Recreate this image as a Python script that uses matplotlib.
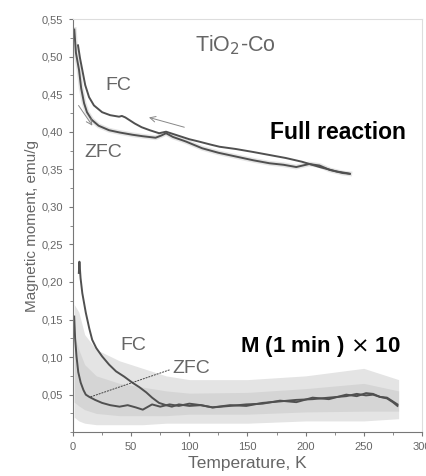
import numpy as np
import matplotlib.pyplot as plt
from matplotlib.ticker import MultipleLocator, FuncFormatter

plt.rcParams['font.family'] = ['Liberation Sans', 'DejaVu Sans']

# upper pair (full reaction)
fc_t = [4.3, 6, 8, 10.5, 13.8, 18, 25, 32, 39.6, 42, 45, 48, 53, 59, 66, 74, 80, 90, 100, 108, 118, 126,
        140, 155, 169, 183, 197, 212, 227, 235, 238]
fc_m = [0.515, 0.498, 0.482, 0.462, 0.446, 0.435, 0.426, 0.422, 0.420, 0.421, 0.419, 0.416, 0.411, 0.406,
        0.402, 0.398, 0.400, 0.395, 0.390, 0.387, 0.383, 0.380, 0.377, 0.373, 0.369, 0.365, 0.360, 0.353,
        0.347, 0.345, 0.344]
zfc_t = [1.1, 2.5, 5.2, 7, 9.5, 12, 16, 22, 31, 40, 51, 60, 71, 76, 80, 86, 97, 111, 125, 140, 155, 169,
         181, 192, 203, 212, 221, 232, 238]
zfc_m = [0.536, 0.505, 0.482, 0.458, 0.438, 0.426, 0.416, 0.408, 0.402, 0.399, 0.396, 0.394, 0.392, 0.395,
         0.398, 0.393, 0.387, 0.378, 0.372, 0.367, 0.362, 0.358, 0.356, 0.353, 0.357, 0.355, 0.349, 0.345,
         0.344]

# lower pair, M(1 min) x 10
fc2_t = [5, 5.5, 6.5, 8, 11, 14, 16.5, 20, 25, 31, 37, 44, 51, 57, 63, 68, 74, 80, 85, 91, 100, 110, 120,
         135, 149, 163, 178, 192, 206, 220, 235, 244, 252, 258, 264, 270, 275, 279]
fc2_m = [0.212, 0.227, 0.205, 0.185, 0.159, 0.138, 0.123, 0.112, 0.101, 0.090, 0.081, 0.074, 0.066, 0.060,
         0.053, 0.046, 0.039, 0.036, 0.034, 0.037, 0.035, 0.036, 0.033, 0.035, 0.037, 0.038, 0.042, 0.040,
         0.046, 0.044, 0.050, 0.048, 0.052, 0.051, 0.047, 0.046, 0.041, 0.037]
zfc2_t = [1, 1.8, 3, 4.5, 6.6, 9, 11, 14, 19, 25, 32, 40, 47, 54, 60, 68, 75, 83, 91, 100, 110, 120, 135,
          149, 163, 178, 192, 206, 220, 235, 244, 252, 258, 264, 270, 275, 279]
zfc2_m = [0.154, 0.125, 0.101, 0.080, 0.066, 0.056, 0.050, 0.047, 0.043, 0.039, 0.036, 0.034, 0.036, 0.033,
          0.030, 0.037, 0.034, 0.037, 0.035, 0.038, 0.036, 0.033, 0.036, 0.035, 0.039, 0.041, 0.043, 0.044,
          0.046, 0.048, 0.051, 0.049, 0.050, 0.047, 0.045, 0.040, 0.035]

# noise cloud envelope around the lower curves
band_t = [1, 5, 10, 20, 40, 60, 80, 100, 150, 200, 250, 280]
band_lo = [0.02, 0.015, 0.012, 0.010, 0.010, 0.010, 0.012, 0.012, 0.012, 0.015, 0.015, 0.018]
band_hi = [0.17, 0.16, 0.13, 0.11, 0.095, 0.085, 0.075, 0.070, 0.070, 0.075, 0.085, 0.070]
core_lo = [0.04, 0.035, 0.030, 0.025, 0.022, 0.022, 0.022, 0.024, 0.024, 0.027, 0.028, 0.028]
core_hi = [0.13, 0.11, 0.09, 0.075, 0.065, 0.060, 0.055, 0.052, 0.053, 0.058, 0.065, 0.055]

yticks = [0.05, 0.10, 0.15, 0.20, 0.25, 0.30, 0.35, 0.40, 0.45, 0.50, 0.55]
xticks = [0, 50, 100, 150, 200, 250, 300]

line_col = '#505050'
txt_col = '#666666'

fig = plt.figure(figsize=(4.27, 4.76), dpi=100)
ax = fig.add_axes([0.171, 0.092, 0.817, 0.868])

ax.fill_between(band_t, band_lo, band_hi, color='#e4e4e4', lw=0)
ax.fill_between(band_t, core_lo, core_hi, color='#cfcfcf', alpha=0.7, lw=0)

ax.plot(zfc_t, zfc_m, color='#aaaaaa', lw=3.5, alpha=0.3)
ax.plot(fc_t, fc_m, color=line_col, lw=1.4)
ax.plot(zfc_t, zfc_m, color=line_col, lw=1.4)
ax.plot(fc2_t, fc2_m, color=line_col, lw=1.4)
ax.plot(zfc2_t, zfc2_m, color=line_col, lw=1.4)

# arrows in the upper part
ax.annotate('', xy=(18, 0.405), xytext=(3.4, 0.438),
            arrowprops=dict(arrowstyle='->', color='#888888', lw=0.7))
ax.annotate('', xy=(63, 0.420), xytext=(98, 0.405),
            arrowprops=dict(arrowstyle='->', color='#888888', lw=0.7))
# pointer from lower ZFC label
ax.plot([83, 15], [0.083, 0.047], color='#444444', lw=0.7, ls=(0, (2, 1)))

ax.text(140, 0.515, 'TiO$_2$-Co', color=txt_col, fontsize=15.5, ha='center', va='center')
ax.text(38.8, 0.462, 'FC', color=txt_col, fontsize=14, ha='center', va='center')
ax.text(25.9, 0.373, 'ZFC', color=txt_col, fontsize=14, ha='center', va='center')
ax.text(227.6, 0.399, 'Full reaction', color='black', fontsize=16.5, fontweight='bold',
        ha='center', va='center')
ax.text(51.7, 0.115, 'FC', color=txt_col, fontsize=14, ha='center', va='center')
ax.text(101.7, 0.085, 'ZFC', color=txt_col, fontsize=14, ha='center', va='center')
ax.text(213, 0.114, 'M (1 min ) $\\times$ 10', color='black', fontsize=16, fontweight='bold',
        ha='center', va='center')

ax.set_xlim(0, 300)
ax.set_ylim(0, 0.55)
ax.set_xticks(xticks)
ax.set_yticks(yticks)
ax.xaxis.set_minor_locator(MultipleLocator(25))
ax.yaxis.set_minor_locator(MultipleLocator(0.025))
ax.yaxis.set_major_formatter(FuncFormatter(lambda v, p: f'{v:.2f}'.replace('.', ',')))
ax.tick_params(which='both', direction='out', colors='#777777', labelcolor=txt_col, labelsize=8)
ax.tick_params(which='major', length=3, pad=4)
ax.tick_params(which='minor', length=2)
ax.tick_params(top=False, right=False)

for s in ['left', 'bottom']:
    ax.spines[s].set_color('#777777')
for s in ['top', 'right']:
    ax.spines[s].set_color('#dddddd')

ax.set_xlabel('Temperature, K', color=txt_col, fontsize=12.5, labelpad=3)
ax.set_ylabel('Magnetic moment, emu/g', color=txt_col, fontsize=11, labelpad=2)

fig.savefig('out.png', dpi=100)
